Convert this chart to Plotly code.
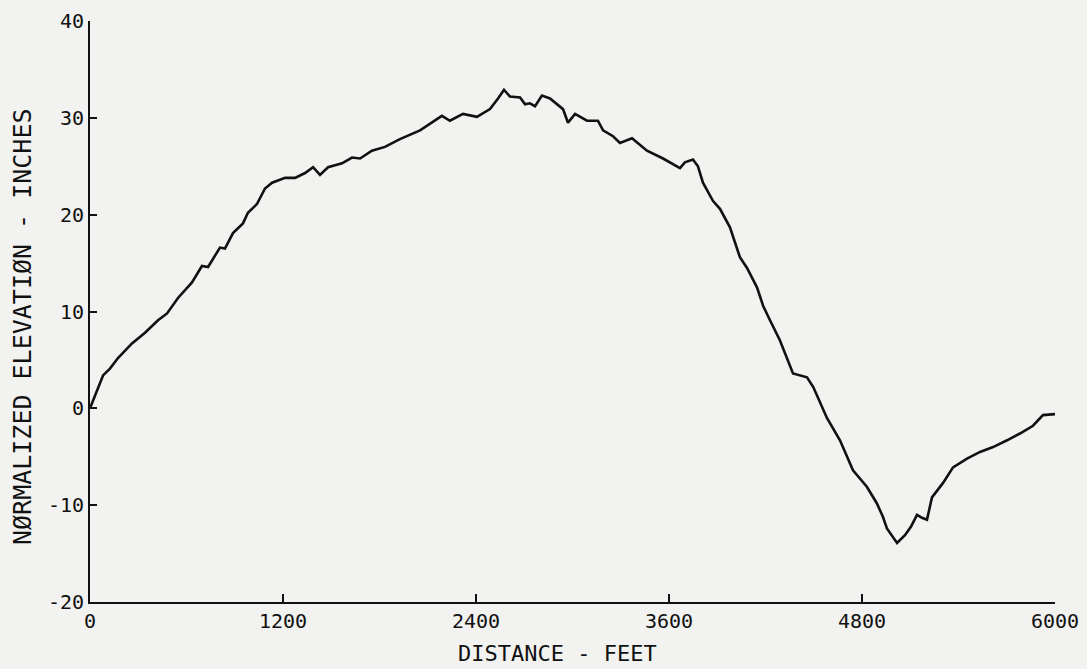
import plotly.graph_objects as go

distance_ft = [0, 19, 50, 81, 124, 174, 261, 342, 423, 479, 547, 634, 696, 734, 808, 839, 889, 951, 982,
               1038, 1088, 1132, 1213, 1275, 1337, 1387, 1430, 1480, 1567, 1629, 1679, 1753, 1834, 1927,
               2052, 2188, 2238, 2319, 2406, 2487, 2537, 2574, 2611, 2674, 2705, 2735, 2767, 2810, 2860,
               2941, 2972, 3016, 3090, 3158, 3190, 3252, 3295, 3370, 3463, 3563, 3668, 3699, 3749, 3780,
               3811, 3874, 3917, 3979, 4041, 4085, 4147, 4185, 4228, 4290, 4371, 4458, 4497, 4582, 4663,
               4744, 4830, 4892, 4930, 4955, 5018, 5067, 5105, 5142, 5173, 5204, 5235, 5304, 5366, 5453,
               5534, 5615, 5702, 5782, 5863, 5925, 6000]
elevation_in = [0, 0.8, 1.9, 3.4, 4.1, 5.2, 6.7, 7.8, 9.1, 9.8, 11.4, 13.0, 14.7, 14.6, 16.6, 16.5, 18.1,
                19.1, 20.2, 21.1, 22.7, 23.3, 23.8, 23.8, 24.3, 24.9, 24.1, 24.9, 25.3, 25.9, 25.8, 26.6,
                27.0, 27.8, 28.7, 30.2, 29.7, 30.4, 30.1, 30.9, 32.0, 32.9, 32.2, 32.1, 31.4, 31.5, 31.2,
                32.3, 32.0, 30.9, 29.5, 30.4, 29.7, 29.7, 28.7, 28.1, 27.4, 27.9, 26.6, 25.8, 24.8, 25.4,
                25.7, 25.0, 23.3, 21.4, 20.6, 18.7, 15.6, 14.5, 12.5, 10.6, 9.1, 7.0, 3.6, 3.2, 2.2, -1.0,
                -3.3, -6.4, -8.1, -9.8, -11.2, -12.4, -13.9, -13.1, -12.2, -11.0, -11.3, -11.5, -9.2, -7.7,
                -6.1, -5.2, -4.5, -4.0, -3.3, -2.6, -1.8, -0.7, -0.6]

x_ticks = [0, 1200, 2400, 3600, 4800, 6000]
x_tick_labels = ["0", "1200", "2400", "3600", "4800", "6000"]
y_ticks = [-20, -10, 0, 10, 20, 30, 40]
y_tick_labels = ["-20", "-10", "0", "10", "20", "30", "40"]

x_title = "DISTANCE - FEET"
y_title = "NØRMALIZED ELEVATIØN - INCHES"

FONT = "DejaVu Sans Mono"
INK = "#111111"
BG = "#f2f2f0"

fig = go.Figure()
fig.add_trace(go.Scatter(x=distance_ft, y=elevation_in, mode="lines",
                         line=dict(color=INK, width=2.6), showlegend=False, hoverinfo="skip"))

fig.update_layout(
    width=1087, height=669,
    margin=dict(l=90, r=32, t=21, b=67, autoexpand=False),
    paper_bgcolor=BG, plot_bgcolor=BG,
    font=dict(family=FONT, color=INK, size=20),
    xaxis=dict(range=[0, 6000], tickvals=x_ticks, ticktext=x_tick_labels,
               showgrid=False, zeroline=False, showline=True, linecolor=INK, linewidth=2,
               ticks="inside", ticklen=8, tickwidth=2, tickcolor=INK, automargin=False,
               tickfont=dict(family=FONT, size=20, color=INK)),
    yaxis=dict(range=[-20, 40], tickvals=y_ticks, ticktext=y_tick_labels,
               showgrid=False, zeroline=False, showline=True, linecolor=INK, linewidth=2,
               ticks="inside", ticklen=7, tickwidth=2, tickcolor=INK, automargin=False,
               tickfont=dict(family=FONT, size=20, color=INK)),
    annotations=[
        dict(text=x_title, xref="paper", yref="paper", x=0.484, y=-0.0895,
             xanchor="center", yanchor="middle", showarrow=False,
             font=dict(family=FONT, size=22, color=INK)),
        dict(text=y_title, xref="paper", yref="paper", x=-0.0705, y=0.475,
             xanchor="center", yanchor="middle", showarrow=False, textangle=-90,
             font=dict(family=FONT, size=25, color=INK)),
    ],
)

fig.write_html("out.html", config={"displayModeBar": False},
               post_script="document.body.style.margin='0';document.body.style.overflow='hidden';")
